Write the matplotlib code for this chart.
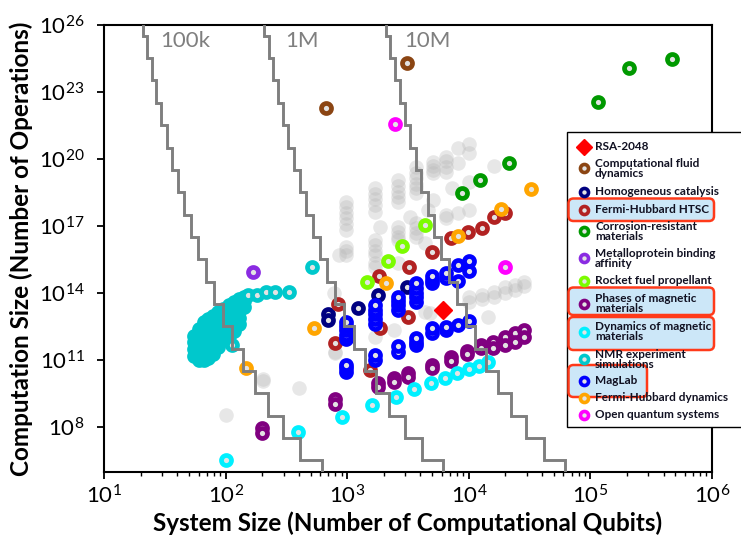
import numpy as np
import matplotlib
matplotlib.use("Agg")
import matplotlib.pyplot as plt
from matplotlib.patches import FancyBboxPatch, Rectangle
from matplotlib.ticker import FixedLocator, LogLocator, NullFormatter, FixedFormatter

plt.rcParams['font.family'] = ['Lato', 'DejaVu Sans']
plt.rcParams['mathtext.fontset'] = 'custom'
plt.rcParams['mathtext.rm'] = 'Lato'
plt.rcParams['mathtext.it'] = 'Lato:italic'
plt.rcParams['mathtext.bf'] = 'Lato:bold'

# ---------------- data (qubits, log10 of operations) ----------------
RSA_QUBITS = [6100]
RSA_OPS_EXP = [13.25]

CFD_QUBITS = [3080, 670]
CFD_OPS_EXP = [24.29, 22.30]

HOMOG_QUBITS = [692, 692, 1233, 1800, 3120]
HOMOG_OPS_EXP = [13.07, 12.80, 13.35, 13.92, 14.29]

HTSC_QUBITS = [845, 794, 1824, 1862, 3221, 3177, 5023, 1542, 7145, 9795, 12760, 16110, 19860]
HTSC_OPS_EXP = [13.50, 11.77, 14.77, 12.44, 15.19, 12.95, 15.84, 10.56, 16.46, 16.72, 16.93, 17.42, 17.60]

CORR_QUBITS = [8750, 12360, 21430, 116100, 208900, 468800]
CORR_OPS_EXP = [18.47, 19.06, 19.84, 22.54, 24.06, 24.48]

METAL_QUBITS = [167]
METAL_OPS_EXP = [14.93]

ROCKET_QUBITS = [4325, 2825, 2178, 1455]
ROCKET_OPS_EXP = [17.07, 16.11, 15.45, 14.50]

PHASES_QUBITS = [200, 200, 794, 794, 1803, 1803, 2427, 2427, 3177, 3177, 4955, 4955,
                 7096, 7096, 9727, 9727, 12530, 12530, 15920, 15920, 19860, 19860,
                 23990, 23990, 28440, 28440]
PHASES_OPS_EXP = [7.98, 7.76, 9.25, 9.04, 9.97, 9.79, 10.19, 10.04, 10.42, 10.26, 10.79, 10.64,
                  11.13, 10.98, 11.43, 11.28, 11.68, 11.53, 11.83, 11.53, 12.03, 11.68,
                  12.21, 11.83, 12.35, 12.03]

DYN_QUBITS = [100, 396, 902, 1589, 2518, 3540, 4887, 6368, 8035, 10090, 12190, 14450]
DYN_OPS_EXP = [6.54, 7.78, 8.47, 9.00, 9.37, 9.71, 9.97, 10.22, 10.42, 10.61, 10.76, 10.91]

# NMR: dense core of the cluster
NMR_CORE_QUBITS = [55, 55, 55, 55,
                   60, 60, 60, 60, 60,
                   66, 66, 66, 66, 66, 66,
                   72, 72, 72, 72, 72, 72,
                   79, 79, 79, 79, 79, 79,
                   87, 87, 87, 87, 87, 87,
                   96, 96, 96, 96, 96,
                   106, 106, 106, 106, 106,
                   117, 117, 117, 117, 117,
                   129, 129, 129, 129, 129,
                   142, 142, 142]
NMR_CORE_OPS_EXP = [11.2, 11.5, 11.8, 12.1,
                    11.0, 11.35, 11.7, 12.05, 12.4,
                    11.0, 11.35, 11.7, 12.05, 12.4, 12.7,
                    11.1, 11.45, 11.8, 12.15, 12.5, 12.85,
                    11.3, 11.65, 12.0, 12.35, 12.7, 13.0,
                    11.6, 11.95, 12.3, 12.65, 12.95, 13.15,
                    11.9, 12.25, 12.6, 12.95, 13.3,
                    12.1, 12.45, 12.8, 13.15, 13.45,
                    12.3, 12.65, 13.0, 13.3, 13.6,
                    12.6, 12.9, 13.2, 13.5, 13.75,
                    13.4, 13.65, 13.85]
# NMR: separate points around the cluster
NMR_QUBITS = [152, 180, 214, 255, 334, 511, 112]
NMR_OPS_EXP = [13.92, 13.92, 14.04, 14.07, 14.04, 15.19, 11.68]

MAGLAB_QUBITS = [977] * 8 + [1690] * 7 + [2600] * 6 + [3710] * 8 + [5010] * 5 + \
                [6460] * 4 + [8110] * 3 + [10040] * 3
MAGLAB_OPS_EXP = [11.97, 12.15, 12.35, 12.55, 12.73, 10.48, 10.64, 10.80,
                  12.64, 12.85, 13.06, 13.27, 13.48, 11.00, 11.24,
                  13.24, 13.45, 13.65, 13.85, 11.38, 11.62,
                  13.61, 13.82, 14.03, 14.24, 14.45, 11.67, 11.83, 11.99,
                  14.45, 14.60, 14.75, 12.21, 12.43,
                  14.70, 14.90, 12.35, 12.50,
                  14.55, 15.26, 12.58,
                  15.00, 15.44, 12.77]

FHD_QUBITS = [147, 533, 2075, 8110, 18290, 32430]
FHD_OPS_EXP = [10.64, 12.46, 14.47, 16.54, 17.77, 18.65]

OQS_QUBITS = [2471, 19860]
OQS_OPS_EXP = [21.56, 15.16]

GRAY_QUBITS = [980, 980, 980, 980, 980, 980, 980, 980, 980, 850, 785, 795, 795,
               1700, 1700, 1700, 1700, 1700, 1700, 1700, 1700, 1700, 1700, 1700, 1700, 1860,
               2600, 2600, 2600, 2600, 2600, 2600, 2600, 2600, 2600, 2600, 2440,
               3680, 3680, 3680, 3680, 3680, 3680, 3680, 3680, 3680, 3680, 3280, 4370, 4370,
               5050, 5050, 5050, 5050, 5050, 4650, 4800,
               6470, 6470, 6470, 6470, 6470, 6470, 7230,
               8090, 8090, 8090,
               9980, 9980, 9980, 9980, 9980, 9980,
               12760, 12760, 14290, 16100, 16100, 16100, 19860, 19860,
               24000, 24000, 28440, 28440, 202, 202, 402, 100]
GRAY_OPS_EXP = [18.09, 17.85, 17.60, 17.35, 17.10, 16.85, 16.08, 15.90, 15.71, 15.70, 14.00, 11.38, 11.31,
                18.69, 18.45, 18.20, 17.95, 17.65, 16.38, 16.15, 15.90, 15.71, 15.34, 15.19, 12.05, 16.95,
                19.06, 18.80, 18.55, 18.30, 18.09, 16.98, 16.75, 16.50, 16.38, 15.34, 12.35,
                19.66, 19.40, 19.15, 18.90, 18.69, 18.47, 17.13, 16.90, 16.70, 16.53, 17.42, 16.23, 13.17,
                19.88, 19.70, 19.51, 19.36, 18.17, 17.72, 13.10,
                20.11, 19.90, 19.66, 19.44, 17.50, 17.35, 18.69,
                20.48, 19.81, 17.57,
                20.68, 20.26, 18.99, 17.72, 13.62, 13.84,
                13.92, 13.75, 12.95, 19.69, 14.07, 13.85, 14.29, 14.00,
                14.37, 14.15, 14.51, 14.30, 10.15, 10.05, 9.77, 8.55]

# Physical-qubit budget contours (staircases)
BUDGET_LABELS = ["100k", "1M", "10M"]
BUDGET_SCALE = [1, 10, 100]
STEP_QUBITS_100K = [617, 413, 296, 222, 173, 139, 113, 94.5, 80.0, 68.6, 59.5,
                    52.0, 45.9, 40.8, 36.5, 32.9, 29.7, 27.0, 24.7, 22.6, 20.8]
STEP_OPS = [3.3e6, 3.3e7, 3.3e8, 3.3e9, 3.3e10, 3.3e11, 3.3e12, 3.3e13, 3.3e14, 3.3e15,
            3.3e16, 3.3e17, 3.3e18, 3.3e19, 3.3e20, 3.3e21, 3.3e22, 3.3e23, 3.3e24,
            3.3e25, 3.3e26]

X_TICKS = [1e1, 1e2, 1e3, 1e4, 1e5, 1e6]
X_TICK_LABELS = [r'$10^{1}$', r'$10^{2}$', r'$10^{3}$', r'$10^{4}$', r'$10^{5}$', r'$10^{6}$']
Y_TICKS = [1e8, 1e11, 1e14, 1e17, 1e20, 1e23, 1e26]
Y_TICK_LABELS = [r'$10^{8}$', r'$10^{11}$', r'$10^{14}$', r'$10^{17}$', r'$10^{20}$',
                 r'$10^{23}$', r'$10^{26}$']

# ---------------- figure ----------------
W, H = 741, 540
fig = plt.figure(figsize=(W / 100, H / 100), dpi=100)
ax = fig.add_axes([104 / W, 1 - 472 / H, 608 / W, 447 / H])
ax.set_xscale('log')
ax.set_yscale('log')
ax.set_xlim(1e1, 1e6)
ax.set_ylim(1e6, 1e26)

RING_FILL = '#e3e3e3'
MS, MEW = 7.2, 3.4


def ring(q, e, color, z=3, fill=RING_FILL):
    ax.plot(q, 10.0 ** np.asarray(e), 'o', ls='none', ms=MS, mew=MEW, mec=color,
            mfc=fill, zorder=z)


# gray background computations
ax.plot(GRAY_QUBITS, 10.0 ** np.asarray(GRAY_OPS_EXP), 'o', ls='none', ms=10.5,
        mfc='#b8b8b8', mec='none', alpha=0.33, zorder=1)

NMR_COL = '#00C8CC'
ring(NMR_CORE_QUBITS, NMR_CORE_OPS_EXP, NMR_COL, 2, fill=NMR_COL)
ring(NMR_QUBITS, NMR_OPS_EXP, NMR_COL, 2)
ring(CFD_QUBITS, CFD_OPS_EXP, '#8B4513')
ring(HOMOG_QUBITS, HOMOG_OPS_EXP, '#000080')
ring(HTSC_QUBITS, HTSC_OPS_EXP, '#B22222')
ring(CORR_QUBITS, CORR_OPS_EXP, '#009900')
ring(METAL_QUBITS, METAL_OPS_EXP, '#8A2BE2')
ring(ROCKET_QUBITS, ROCKET_OPS_EXP, '#7CFC00')
ring(PHASES_QUBITS, PHASES_OPS_EXP, '#800080')
ring(DYN_QUBITS, DYN_OPS_EXP, '#00F0FF')
ring(FHD_QUBITS, FHD_OPS_EXP, '#FFA500')
ring(MAGLAB_QUBITS, MAGLAB_OPS_EXP, '#0000FF', 4)
ring(OQS_QUBITS, OQS_OPS_EXP, '#FF00FF')
ax.plot(RSA_QUBITS, 10.0 ** np.asarray(RSA_OPS_EXP), 'D', ls='none', ms=9.5, color='#FF0000',
        mec='#FF0000', zorder=6)

# staircases
for lab, sc in zip(BUDGET_LABELS, BUDGET_SCALE):
    q = np.asarray(STEP_QUBITS_100K) * sc
    xs = np.repeat(q, 2)
    ys = np.concatenate([[1e6], np.repeat(STEP_OPS, 2)[:-1]])
    ax.plot(xs, ys, color='#7f7f7f', lw=2.1, zorder=5, solid_joinstyle='miter')

for lab, xf in zip(BUDGET_LABELS, [(185 - 104) / 608, (302 - 104) / 608, (427 - 104) / 608]):
    ax.text(xf, 1 - (41 - 25) / 447, lab, transform=ax.transAxes, ha='center', va='center',
            fontsize=16, color='#7f7f7f')

# axes styling
ax.xaxis.set_major_locator(FixedLocator(X_TICKS))
ax.xaxis.set_major_formatter(FixedFormatter(X_TICK_LABELS))
ax.xaxis.set_minor_locator(LogLocator(base=10, subs=np.arange(2, 10)))
ax.xaxis.set_minor_formatter(NullFormatter())
ax.yaxis.set_major_locator(FixedLocator(Y_TICKS))
ax.yaxis.set_major_formatter(FixedFormatter(Y_TICK_LABELS))
ax.yaxis.set_minor_locator(FixedLocator([]))
for s in ax.spines.values():
    s.set_linewidth(1.5)
ax.tick_params(axis='both', which='major', direction='out', length=5, width=1.3,
               labelsize=16, colors='black')
ax.tick_params(axis='x', which='minor', direction='out', length=3, width=1.0)
ax.tick_params(axis='y', pad=9)
ax.tick_params(axis='x', pad=4)
ax.set_xlabel('System Size (Number of Computational Qubits)', fontsize=17.5, fontweight='bold',
              labelpad=3)
ax.set_ylabel('Computation Size (Number of Operations)', fontsize=17.5, fontweight='bold',
              labelpad=4)

# ---------------- legend (drawn in pixel space) ----------------
lax = fig.add_axes([0, 0, 1, 1], zorder=20)
lax.set_xlim(0, W)
lax.set_ylim(H, 0)
lax.axis('off')
lax.add_patch(Rectangle((567, 131.5), 200, 295.5, fc='white', ec='black', lw=1.0))
for (x0, y0, x1, y1) in [(568.5, 198.5, 714, 221), (568.5, 287.5, 714, 315),
                         (568.5, 317, 714, 350), (568.5, 365, 647, 397)]:
    lax.add_patch(FancyBboxPatch((x0, y0), x1 - x0, y1 - y0,
                                 boxstyle='round,pad=0,rounding_size=5',
                                 fc='#cce7f8', ec='#FF3A1A', lw=1.8))

LEG = [("RSA-2048", None, 146.7, 146.7),
       ("Computational fluid\ndynamics", '#8B4513', 167.7, 168.8),
       ("Homogeneous catalysis", '#000080', 191.7, 191.7),
       ("Fermi-Hubbard HTSC", '#B22222', 209.5, 209.5),
       ("Corrosion-resistant\nmaterials", '#009900', 230.5, 231.3),
       ("Metalloprotein binding\naffinity", '#8A2BE2', 258, 258.8),
       ("Rocket fuel propellant", '#7CFC00', 281, 281),
       ("Phases of magnetic\nmaterials", '#800080', 303.5, 303.7),
       ("Dynamics of magnetic\nmaterials", '#00F0FF', 331.7, 331.7),
       ("NMR experiment\nsimulations", '#00C8CC', 358.5, 359.2),
       ("MagLab", '#0000FF', 380.7, 380.7),
       ("Fermi-Hubbard dynamics", '#FFA500', 397.7, 397.7),
       ("Open quantum systems", '#FF00FF', 415, 415)]
for lab, col, my, ty in LEG:
    if col is None:
        lax.plot(584, my, 'D', ms=8, color='#FF0000')
    else:
        lax.plot(584, my, 'o', ms=5.8, mew=2.6, mec=col, mfc=RING_FILL)
    lax.text(595, ty, lab, ha='left', va='center', fontsize=8.5, fontweight='bold',
             color='#111122', linespacing=0.9)

fig.savefig('out.png', dpi=100)
